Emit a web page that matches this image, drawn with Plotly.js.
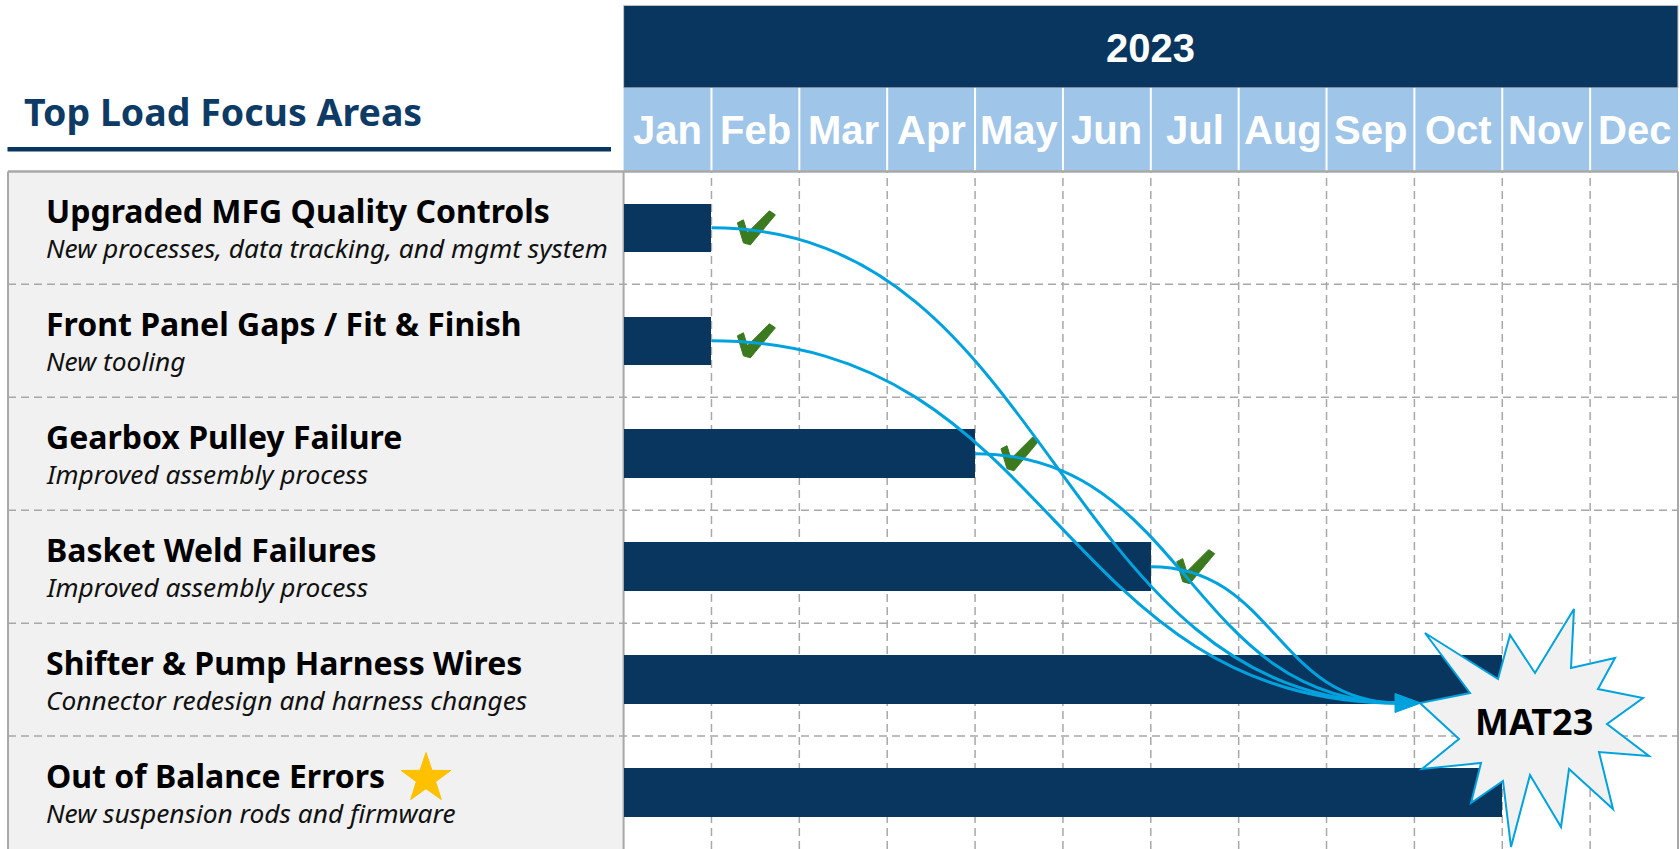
<!DOCTYPE html>
<html><head><meta charset="utf-8">
<script src="https://cdn.plot.ly/plotly-3.0.1.min.js"></script>
<style>html,body{margin:0;padding:0;background:#fff;}#chart{width:1680px;height:849px;}</style>
</head><body><div id="chart"></div>
<script>
// ---------- data ----------
const chartTitle = "Top Load Focus Areas";
const year = "2023";
const months = ["Jan","Feb","Mar","Apr","May","Jun","Jul","Aug","Sep","Oct","Nov","Dec"];
const areas = ["Upgraded MFG Quality Controls","Front Panel Gaps / Fit & Finish","Gearbox Pulley Failure","Basket Weld Failures","Shifter & Pump Harness Wires","Out of Balance Errors"];
const details = ["New processes, data tracking, and mgmt system","New tooling","Improved assembly process","Improved assembly process","Connector redesign and harness changes","New suspension rods and firmware"];
const startMonth = [0,0,0,0,0,0];
const endMonth = [1,1,4,6,10,10];
const completed = [true,true,true,true,false,false];
const starred = [false,false,false,false,false,true];
const milestone = "MAT23";

// ---------- layout geometry ----------
const W=1680,H=849,L=623.6,R=1678,T=171.4;
const px=x=>x/W, py=y=>1-y/H;
const NAVY='#08365f', LIGHT='#9fc5e8', GRID='#a8a8a8', BLUE='#00a2de', GREEN='#3b7a1f', PANEL='#f0f1f0', GOLD='#ffc000';
const rows = areas.map((_,i)=>i);
const rowPx = (H-T)/areas.length;
const monthPx = (R-L)/months.length;
const toX = p=>(p-L)/monthPx;            // pixel -> month units
const toRow = p=>(p-T)/rowPx-0.5;        // pixel -> row units
const target = {x: toX(1400), y: toRow(703)};
const tip = {x: toX(1421), y: toRow(703)};

const traces = [{
  type:'bar', orientation:'h', y: rows,
  x: endMonth.map((e,i)=>e-startMonth[i]), base: startMonth,
  width:0.43, marker:{color:NAVY, line:{width:0}}, hoverinfo:'skip', showlegend:false
}];

const shapes = [];
shapes.push({type:'rect',xref:'paper',yref:'paper',x0:px(8),x1:px(L),y0:0,y1:py(T),fillcolor:PANEL,line:{width:0},layer:'below'});
shapes.push({type:'rect',xref:'paper',yref:'paper',x0:px(L),x1:px(R),y0:py(87.9),y1:py(5.4),fillcolor:NAVY,line:{color:'#c8c8c8',width:1},layer:'below'});
shapes.push({type:'rect',xref:'paper',yref:'paper',x0:px(L),x1:px(R),y0:py(T),y1:py(87.9),fillcolor:LIGHT,line:{width:0},layer:'below'});
for(let i=1;i<months.length;i++){
  shapes.push({type:'line',xref:'x',yref:'paper',x0:i,x1:i,y0:py(T),y1:py(87.9),line:{color:'#ffffff',width:2},layer:'below'});
  shapes.push({type:'line',xref:'x',yref:'paper',x0:i,x1:i,y0:0,y1:py(T),line:{color:GRID,width:1.5,dash:'8px,5px'},layer:'below'});
}
shapes.push({type:'rect',xref:'paper',yref:'paper',x0:px(7.5),x1:px(611),y0:py(151.5),y1:py(147),fillcolor:NAVY,line:{width:0},layer:'below'});
for(let i=0;i<areas.length-1;i++){
  shapes.push({type:'line',xref:'paper',yref:'y',x0:px(8),x1:px(R),y0:i+0.5,y1:i+0.5,line:{color:GRID,width:1.5,dash:'8px,5px'},layer:'below'});
}
shapes.push({type:'line',xref:'paper',yref:'paper',x0:px(8),x1:px(R),y0:py(T),y1:py(T),line:{color:GRID,width:2.5},layer:'below'});
shapes.push({type:'line',xref:'paper',yref:'paper',x0:px(8),x1:px(8),y0:0,y1:py(T),line:{color:GRID,width:2},layer:'below'});
shapes.push({type:'line',xref:'paper',yref:'paper',x0:px(L),x1:px(L),y0:0,y1:py(T),line:{color:GRID,width:2},layer:'below'});
shapes.push({type:'line',xref:'paper',yref:'paper',x0:px(R),x1:px(R),y0:0,y1:py(T),line:{color:GRID,width:2},layer:'below'});

// gold star marker next to starred area titles
const starR = 26, starPts = [];
for(let k=0;k<10;k++){
  const a = Math.PI/2 + k*Math.PI/5, r = k%2===0 ? starR : starR*0.39;
  starPts.push([r*Math.cos(a), r*Math.sin(a)]);
}
const starPath = 'M '+starPts.map(p=>p[0].toFixed(2)+','+p[1].toFixed(2)).join(' L ')+' Z';
rows.forEach(i=>{
  if(!starred[i]) return;
  shapes.push({type:'path',xref:'paper',yref:'y',xsizemode:'pixel',ysizemode:'pixel',
    xanchor:px(426),yanchor:i,path:starPath.replace(/,(-?[\d.]+)/g,(m,v)=>','+(parseFloat(v)+14).toFixed(2)),
    fillcolor:GOLD,line:{color:GOLD,width:1},layer:'above'});
});

// check marks (drawn under the curves)
const checkPts = [[-18,-5],[-12,-8],[-8,5],[14,-17],[20,-13],[-5,17],[-12,15]];
const checkPath = 'M '+checkPts.map(p=>p[0]+','+(-p[1])).join(' L ')+' Z';
rows.forEach(i=>{
  if(!completed[i]) return;
  shapes.push({type:'path',xref:'x',yref:'y',xsizemode:'pixel',ysizemode:'pixel',
    xanchor:endMonth[i]+0.5,yanchor:i,path:checkPath,fillcolor:GREEN,line:{color:GREEN,width:1},layer:'above'});
});

// starburst
const burst = [[1425,633],[1498,679],[1510,635],[1535,673],[1574,609],[1571,668],[1615,658],[1598,689],[1643,698],[1607,724],
  [1649,756],[1599,752],[1613,809],[1569,769],[1561,827],[1530,775],[1511,847],[1503,781],[1471,803],[1481,763],
  [1422,769],[1459,739],[1420,703],[1470,693]];
shapes.push({type:'path',xref:'paper',yref:'paper',
  path:'M '+burst.map(p=>px(p[0]).toFixed(5)+','+py(p[1]).toFixed(5)).join(' L ')+' Z',
  fillcolor:PANEL,line:{color:BLUE,width:2},layer:'above'});

// curves from completed items to the milestone
rows.forEach(i=>{
  if(!completed[i]) return;
  const x0=endMonth[i], y0=i, dx=target.x-x0;
  const c1x=x0+0.5*dx, c2x=target.x-0.5*dx;
  shapes.push({type:'path',xref:'x',yref:'y',
    path:`M ${x0},${y0} C ${c1x},${y0} ${c2x},${target.y} ${target.x},${target.y}`,
    line:{color:BLUE,width:3},fillcolor:'rgba(0,0,0,0)',layer:'above'});
});
const ah = 9.5/rowPx, ab = toX(1395);
shapes.push({type:'path',xref:'x',yref:'y',
  path:`M ${ab},${target.y-ah} L ${tip.x},${tip.y} L ${ab},${target.y+ah} Z`,
  fillcolor:BLUE,line:{color:BLUE,width:1},layer:'above'});

// ---------- annotations ----------
const ann = [];
ann.push({text:chartTitle,xref:'paper',yref:'paper',x:px(22),y:py(111),xanchor:'left',yanchor:'middle',showarrow:false,
  font:{family:'Noto Sans',size:37.5,weight:700,color:'#0d3b66'}});
ann.push({text:year,xref:'x',yref:'paper',x:months.length/2,y:py(48),xanchor:'center',yanchor:'middle',showarrow:false,
  font:{family:'Liberation Sans Narrow, Arial Narrow, Liberation Sans',size:40,weight:700,color:'#ffffff'}});
months.forEach((m,i)=>ann.push({text:m,xref:'x',yref:'paper',x:i+0.5,y:py(130),xanchor:'center',yanchor:'middle',showarrow:false,
  font:{family:'Liberation Sans Narrow, Arial Narrow, Liberation Sans',size:40,weight:700,color:'#ffffff'}}));
rows.forEach(i=>{
  ann.push({text:areas[i],xref:'paper',yref:'y',x:px(44),y:i,yshift:17,xanchor:'left',yanchor:'middle',showarrow:false,
    font:{family:'Noto Sans',size:32,weight:700,color:'#000000'}});
  ann.push({text:details[i],xref:'paper',yref:'y',x:px(44),y:i,yshift:-20,xanchor:'left',yanchor:'middle',showarrow:false,
    font:{family:'Noto Sans',size:26.3,style:'italic',color:'#111111'}});
});
ann.push({text:milestone,xref:'paper',yref:'paper',x:px(1534),y:py(721),xanchor:'center',yanchor:'middle',showarrow:false,
  font:{family:'Noto Sans',size:36,weight:700,color:'#000000'}});

const layout = {
  width:W,height:H,margin:{l:0,r:0,t:0,b:0},
  paper_bgcolor:'#ffffff',plot_bgcolor:'rgba(0,0,0,0)',showlegend:false,
  xaxis:{domain:[L/W,R/W],range:[0,months.length],showgrid:false,zeroline:false,showticklabels:false,ticks:'',fixedrange:true},
  yaxis:{domain:[0,py(T)],range:[areas.length-0.5,-0.5],showgrid:false,zeroline:false,showticklabels:false,ticks:'',fixedrange:true},
  shapes:shapes,annotations:ann,bargap:0
};
Plotly.newPlot('chart',traces,layout,{displayModeBar:false,staticPlot:true});
</script></body></html>
